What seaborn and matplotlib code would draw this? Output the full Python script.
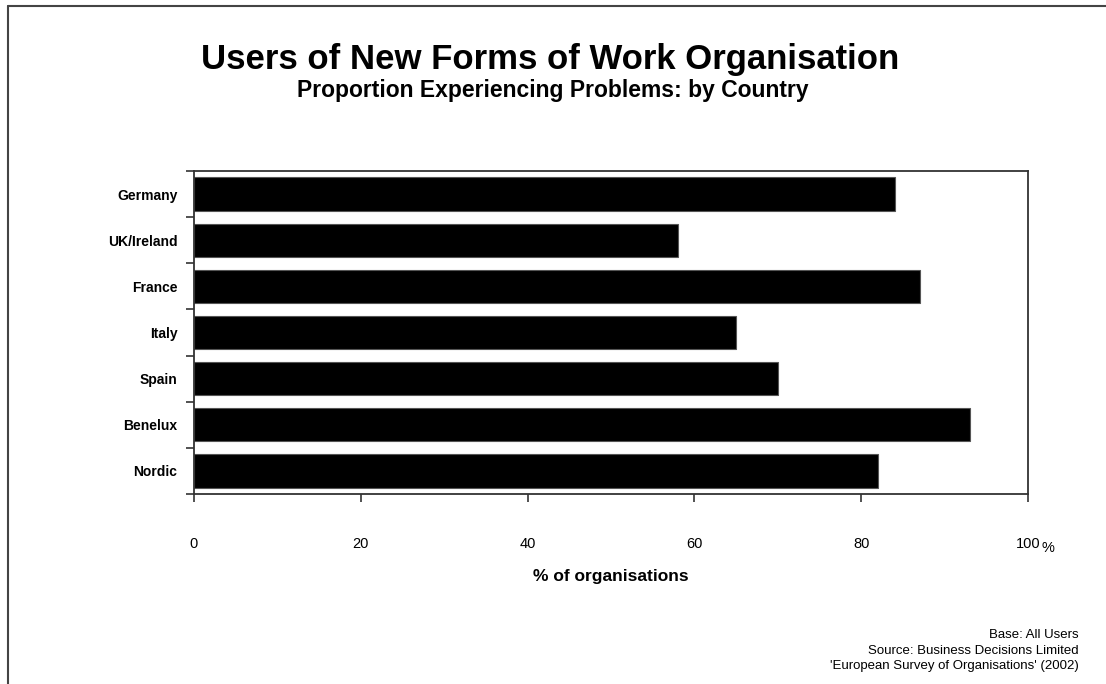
import matplotlib
matplotlib.use("Agg")
import matplotlib.pyplot as plt
from matplotlib.lines import Line2D
import seaborn as sns
import pandas as pd

countries = ["Germany", "UK/Ireland", "France", "Italy", "Spain", "Benelux", "Nordic"]
share = [84, 58, 87, 65, 70, 93, 82]
x_ticks = [0, 20, 40, 60, 80, 100]

title = "Users of New Forms of Work Organisation"
subtitle = "Proportion Experiencing Problems: by Country"
x_label = "% of organisations"
notes = ["Base: All Users",
         "Source: Business Decisions Limited",
         "'European Survey of Organisations' (2002)"]

sns.set_theme(style="white")
plt.rcParams["font.family"] = ["Liberation Sans", "DejaVu Sans"]
plt.rcParams["text.color"] = "black"
plt.rcParams["xtick.color"] = "black"
plt.rcParams["ytick.color"] = "black"
plt.rcParams["axes.labelcolor"] = "black"

W, H = 1106, 684
fig = plt.figure(figsize=(W / 100, H / 100), dpi=100)
fig.patch.set_facecolor("white")

# axes box in pixel terms
left, right, top, bottom = 194, 1028, 171, 494
ax = fig.add_axes([left / W, 1 - bottom / H, (right - left) / W, (bottom - top) / H])

df = pd.DataFrame({"country": countries, "share": share})
sns.barplot(data=df, x="share", y="country", orient="h", color="black",
            width=0.72, edgecolor="#555555", linewidth=0.8, saturation=1,
            ax=ax)

ax.set_xlim(0, 100)
ax.set_ylim(len(countries) - 0.5, -0.5)
ax.set_xticks(x_ticks)
ax.set_xticklabels([str(v) for v in x_ticks], fontsize=10.5)
ax.set_yticks(range(len(countries)))
ax.set_yticklabels(countries, fontsize=10, fontweight="bold")
ax.set_yticks([i - 0.5 for i in range(len(countries) + 1)], minor=True)
ax.tick_params(axis="y", which="major", length=0, pad=12)
ax.tick_params(axis="y", which="minor", length=6, width=1.2, color="#333333",
               direction="out")
ax.tick_params(axis="x", which="major", length=6, width=1.2, color="#333333",
               direction="out", pad=25)
ax.yaxis.set_ticks_position("left")
ax.xaxis.set_ticks_position("bottom")
ax.set_xlabel(x_label, fontsize=12.5, fontweight="bold", labelpad=13)
ax.set_ylabel("")
for s in ax.spines.values():
    s.set_visible(True)
    s.set_color("#333333")
    s.set_linewidth(1.3)

fig.text(1042 / W, 1 - 548 / H, "%", fontsize=10.5, ha="left", va="center")

fig.text(550 / W, 1 - 60 / H, title, fontsize=25, fontweight="bold",
         ha="center", va="center")
fig.text(553 / W, 1 - 90 / H, subtitle, fontsize=16.5, fontweight="bold",
         ha="center", va="center")

for i, line in enumerate(notes):
    fig.text(1079 / W, 1 - (635 + i * 15.5) / H, line, fontsize=9.5,
             ha="right", va="center")

# outer frame (left and top edges)
fig.add_artist(Line2D([8 / W, 8 / W], [1 - 6 / H, 0], transform=fig.transFigure,
                      color="#444444", lw=1.5))
fig.add_artist(Line2D([8 / W, 1], [1 - 6 / H, 1 - 6 / H], transform=fig.transFigure,
                      color="#444444", lw=1.5))

fig.savefig("out.png", dpi=100, facecolor="white")
